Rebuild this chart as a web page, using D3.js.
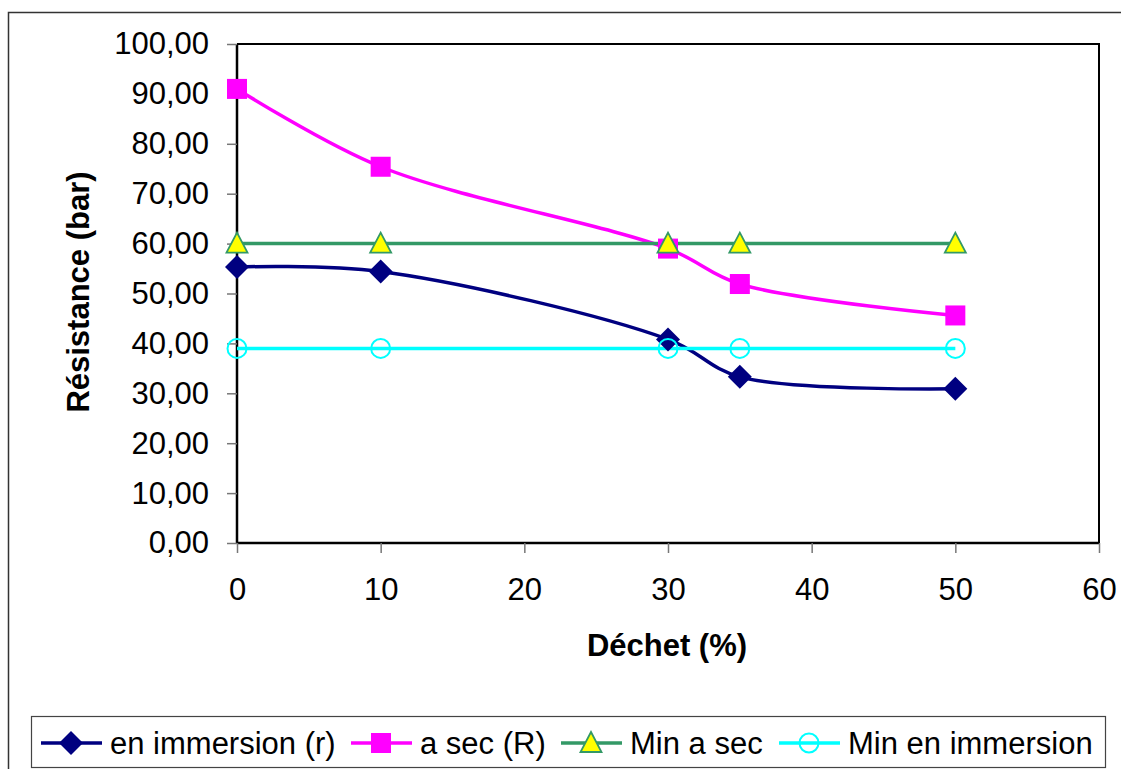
<!DOCTYPE html>
<html>
<head>
<meta charset="utf-8">
<script src="https://cdn.jsdelivr.net/npm/d3@7"></script>
<style>
  body { margin: 0; background: #fff; }
  svg { font-family: "Liberation Sans", Arial, sans-serif; }
</style>
</head>
<body>
<svg id="chart" width="1121" height="769"></svg>
<script>
// Data
const dechet = [0, 10, 30, 35, 50]
const immersion = [55.3, 54.4, 40.8, 33.3, 30.9]
const aSec = [91.0, 75.4, 59.0, 51.9, 45.6]
const minASec = [60, 60, 60, 60, 60]
const minImmersion = [39, 39, 39, 39, 39]
const xTicks = [0, 10, 20, 30, 40, 50, 60]
const yTicks = [0, 10, 20, 30, 40, 50, 60, 70, 80, 90, 100]

const series = [
    { name: "en immersion (r)", values: immersion, color: "#000080", marker: "diamond", smooth: true },
    { name: "a sec (R)", values: aSec, color: "#ff00ff", marker: "square", smooth: true },
    { name: "Min a sec", values: minASec, color: "#339966", marker: "triangle", smooth: false },
    { name: "Min en immersion", values: minImmersion, color: "#00ffff", marker: "circle", smooth: false },
]

const svg = d3.select("#chart")
const FONT = "Liberation Sans, Arial, sans-serif"

// outer chart frame
svg.append("rect")
    .attr("x", 8.5).attr("y", 12.5)
    .attr("width", 1130).attr("height", 770)
    .attr("fill", "none").attr("stroke", "#333").attr("stroke-width", 1.5)

const plot = { left: 237, top: 44, right: 1099, bottom: 543 }

const x = d3.scaleLinear().domain([0, 60]).range([plot.left, plot.right])
const y = d3.scaleLinear().domain([0, 100]).range([plot.bottom, plot.top])

// plot frame (top + right)
svg.append("path")
    .attr("d", `M${plot.left},${plot.top}H${plot.right}V${plot.bottom}`)
    .attr("fill", "none").attr("stroke", "#000").attr("stroke-width", 2)

// axes
let xAxis = svg.append("g")
    .attr("transform", `translate(0,${plot.bottom})`)
    .call(d3.axisBottom(x).tickValues(xTicks).tickSize(10).tickPadding(25).tickFormat(d3.format("d")))
let yAxis = svg.append("g")
    .attr("transform", `translate(${plot.left},0)`)
    .call(d3.axisLeft(y).tickValues(yTicks).tickSize(10).tickPadding(18)
        .tickFormat(d => d3.format(".2f")(d).replace(".", ",")))

;[xAxis, yAxis].forEach(ax => {
    ax.attr("font-size", 31).attr("font-family", FONT)
    ax.select(".domain").attr("stroke", "#000").attr("stroke-width", 2.5)
    ax.selectAll(".tick line").attr("stroke", "#777").attr("stroke-width", 1.5)
    ax.selectAll(".tick text").attr("fill", "#000")
})
xAxis.select(".domain").attr("d", `M${plot.left},0H${plot.right}`)
yAxis.select(".domain").attr("d", `M0,${plot.bottom}V${plot.top}`)

// axis titles
svg.append("text")
    .attr("x", 667).attr("y", 656)
    .attr("text-anchor", "middle")
    .attr("font-size", 31).attr("font-weight", "bold")
    .text("Déchet (%)")
svg.append("text")
    .attr("transform", "translate(89,292) rotate(-90)")
    .attr("text-anchor", "middle")
    .attr("font-size", 31).attr("font-weight", "bold")
    .text("Résistance (bar)")

// marker drawing
function drawMarker(g, type, color) {
    if (type === "diamond") {
        g.append("path").attr("d", "M0,-12L12,0L0,12L-12,0Z").attr("fill", color)
    } else if (type === "square") {
        g.append("rect").attr("x", -10).attr("y", -10).attr("width", 20).attr("height", 20).attr("fill", color)
    } else if (type === "triangle") {
        g.append("path").attr("d", "M0,-11L10.5,9L-10.5,9Z")
            .attr("fill", "#ffff00").attr("stroke", color).attr("stroke-width", 1.8)
    } else if (type === "circle") {
        g.append("circle").attr("r", 9.5).attr("fill", "none").attr("stroke", color).attr("stroke-width", 2)
    }
}

// lines + markers
series.forEach(s => {
    let pts = dechet.map((d, i) => [d, s.values[i]])
    let line = d3.line()
        .x(d => x(d[0])).y(d => y(d[1]))
        .curve(s.smooth ? d3.curveCatmullRom.alpha(0.5) : d3.curveLinear)
    svg.append("path")
        .datum(pts)
        .attr("d", line)
        .attr("fill", "none")
        .attr("stroke", s.color)
        .attr("stroke-width", 3.5)
})
series.forEach(s => {
    dechet.forEach((d, i) => {
        let g = svg.append("g").attr("transform", `translate(${x(d)},${y(s.values[i])})`)
        drawMarker(g, s.marker, s.color)
    })
})

// legend
svg.append("rect")
    .attr("x", 31.5).attr("y", 716.5)
    .attr("width", 1074).attr("height", 51)
    .attr("fill", "#fff").attr("stroke", "#444").attr("stroke-width", 1.2)

const legendX = [41, 351, 561, 779]
series.forEach((s, i) => {
    let g = svg.append("g").attr("transform", `translate(${legendX[i]},743)`)
    g.append("line").attr("x1", 0).attr("x2", 61).attr("stroke", s.color).attr("stroke-width", 3.5)
    drawMarker(g.append("g").attr("transform", "translate(30,0)"), s.marker, s.color)
    g.append("text").attr("x", 69).attr("y", 11)
        .attr("font-size", 31).attr("fill", "#000")
        .text(s.name)
})
</script>
</body>
</html>
